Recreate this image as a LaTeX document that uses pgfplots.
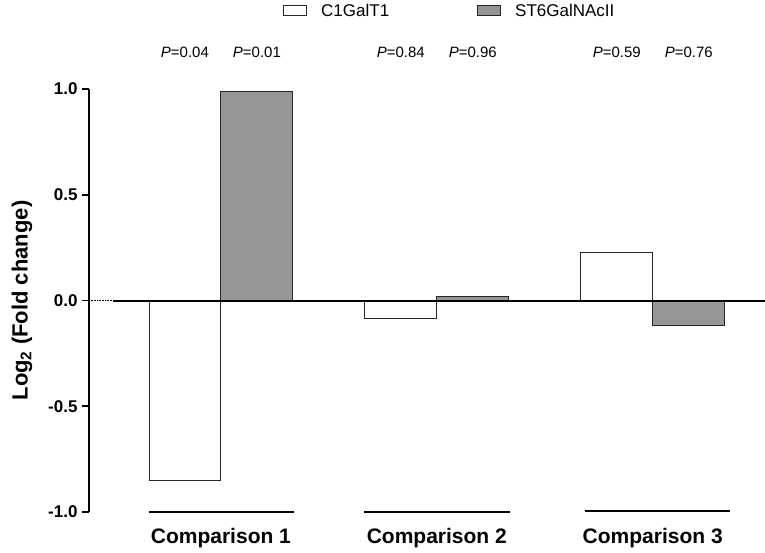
\documentclass[border=0pt]{standalone}
\usepackage{pgfplots}
\pgfplotsset{compat=1.18}
\usepackage{fontspec}
\setmainfont{Liberation Sans}
\definecolor{bargray}{RGB}{150,150,150}
\begin{document}
\begin{tikzpicture}[x=1pt,y=1pt]
\useasboundingbox (0,0) rectangle (765,552);
\begin{axis}[
  at={(89pt,40pt)}, anchor=south west,
  scale only axis, width=676pt, height=423pt,
  xmin=-0.611, xmax=2.52, ymin=-1, ymax=1,
  axis y line*=left, axis x line*=bottom,
  x axis line style={draw=none},
  y axis line style={-, line width=2pt, black},
  xtick={0,1,2}, xticklabels={Comparison 1,Comparison 2,Comparison 3},
  xtick style={draw=none},
  ytick={-1,-0.5,0,0.5,1}, yticklabels={-1.0,-0.5,0.0,0.5,1.0},
  tick align=outside, major tick length=7pt,
  ytick style={line width=1.6pt, black},
  yticklabel style={font=\bfseries\fontsize{17}{17}\selectfont, xshift=-1pt},
  xticklabel style={font=\bfseries\fontsize{21}{21}\selectfont, yshift=-6pt},
  ylabel={Log\textsubscript{2} (Fold change)},
  ylabel style={font=\bfseries\fontsize{22}{22}\selectfont, at={(axis description cs:-0.099,0.5)}, anchor=center},
  clip=false,
]
\addplot[ybar, bar width=0.3333, bar shift=-0.16667, fill=white, draw=black!85, line width=0.9pt]
  coordinates {(0,-0.853) (1,-0.083) (2,0.227)};
\addplot[ybar, bar width=0.3333, bar shift=0.16667, fill=bargray, draw=black!85, line width=0.9pt]
  coordinates {(0,0.99) (1,0.017) (2,-0.118)};
\addplot[line width=2pt, black] coordinates {(-0.5,0) (2.52,0)};
\addplot[densely dotted, line width=0.6pt, black] coordinates {(-0.611,0) (-0.5,0)};
\addplot[line width=2.6pt, black] coordinates {(-0.335,-1) (0.34,-1)};
\addplot[line width=2.6pt, black] coordinates {(0.665,-1) (1.34,-1)};
\addplot[line width=2.6pt, black] coordinates {(1.685,-0.995) (2.36,-0.995)};
\begin{scope}[font=\fontsize{15}{15}\selectfont]
\node at (axis cs:-0.1667,1.175) {\textit{P}=0.04};
\node at (axis cs:0.1667,1.175) {\textit{P}=0.01};
\node at (axis cs:0.8333,1.175) {\textit{P}=0.84};
\node at (axis cs:1.1667,1.175) {\textit{P}=0.96};
\node at (axis cs:1.8333,1.175) {\textit{P}=0.59};
\node at (axis cs:2.1667,1.175) {\textit{P}=0.76};
\end{scope}
\end{axis}
% legend
\draw[fill=white, draw=black!85, line width=0.9pt] (283,537) rectangle (306,547);
\node[anchor=base west, inner sep=0pt, font=\fontsize{17}{17}\selectfont] at (321,535.5) {C1GalT1};
\draw[fill=bargray, draw=black!85, line width=0.9pt] (477,537) rectangle (500,547);
\node[anchor=base west, inner sep=0pt, font=\fontsize{17}{17}\selectfont] at (515,535.5) {ST6GalNAcII};
\end{tikzpicture}
\end{document}
